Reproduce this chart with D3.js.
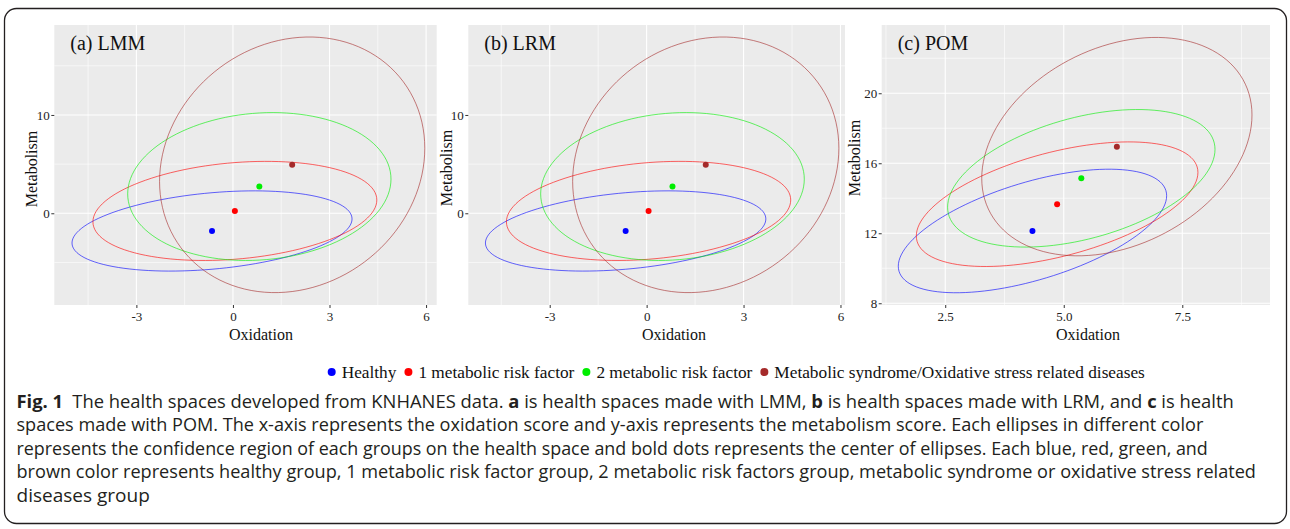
<!DOCTYPE html>
<html>
<head>
<meta charset="utf-8">
<script src="https://cdnjs.cloudflare.com/ajax/libs/d3/7.8.5/d3.min.js"></script>
<style>
  body { margin: 0; background: #fff; }
  svg { display: block; }
  .tick text { font-family: "Liberation Serif", "Times New Roman", serif; }
</style>
</head>
<body>
<svg id="fig" width="1290" height="529"></svg>
<script>
// groups (same order in every panel)
var groups = ["Healthy", "1 metabolic risk factor", "2 metabolic risk factor",
  "Metabolic syndrome/Oxidative stress related diseases"];
var groupColors = ["#0000ff", "#ff0000", "#00ee00", "#a52a2a"];

// (a) LMM : centres, half-width, half-height, tilt (corr)
var lmmCx = [-0.65, 0.06, 0.82, 1.84];
var lmmCy = [-1.80, 0.24, 2.72, 4.93];
var lmmRx = [4.35, 4.41, 4.09, 4.12];
var lmmRy = [4.08, 5.04, 7.52, 13.0];
var lmmRho = [0.30, 0.22, 0.10, 0.13];

// (b) LRM
var lrmCx = [-0.65, 0.06, 0.80, 1.83];
var lrmCy = [-1.80, 0.24, 2.72, 4.93];
var lrmRx = [4.34, 4.40, 4.08, 4.12];
var lrmRy = [4.08, 5.04, 7.52, 13.0];
var lrmRho = [0.30, 0.22, 0.10, 0.13];

// (c) POM
var pomCx = [4.34, 4.86, 5.37, 6.12];
var pomCy = [12.13, 13.66, 15.14, 16.95];
var pomRx = [2.83, 2.97, 2.82, 2.85];
var pomRy = [3.53, 3.56, 3.93, 6.24];
var pomRho = [0.57, 0.51, 0.42, 0.29];

// tick labels
var lmmXTicks = [-3, 0, 3, 6];
var lmmYTicks = [0, 10];
var pomXTicks = [2.5, 5.0, 7.5];
var pomYTicks = [8, 12, 16, 20];

var captionLines = [
  [["Fig. 1", true], ["\u2002The health spaces developed from KNHANES data. ", false], ["a", true],
   [" is health spaces made with LMM, ", false], ["b", true], [" is health spaces made with LRM, and ", false],
   ["c", true], [" is health", false]],
  [["spaces made with POM. The x-axis represents the oxidation score and y-axis represents the metabolism score. Each ellipses in different color", false]],
  [["represents the confidence region of each groups on the health space and bold dots represents the center of ellipses. Each blue, red, green, and", false]],
  [["brown color represents healthy group, 1 metabolic risk factor group, 2 metabolic risk factors group, metabolic syndrome or oxidative stress related", false]],
  [["diseases group", false]]
];

var serif = '"Liberation Serif", "Times New Roman", serif';
var svg = d3.select("#fig");

svg.append("rect")
  .attr("x", 4.5).attr("y", 8.5)
  .attr("width", 1282).attr("height", 515)
  .attr("rx", 12)
  .attr("fill", "none")
  .attr("stroke", "#231f20")
  .attr("stroke-width", 1.3);

var intFmt = function(d) { return String(d); };
var oneDec = function(d) { return d.toFixed(1); };

var panels = [
  {title: "(a) LMM", cx: lmmCx, cy: lmmCy, rx: lmmRx, ry: lmmRy, rho: lmmRho,
   xTicks: lmmXTicks, yTicks: lmmYTicks, xDom: [-5.55, 6.33], yDom: [-9.33, 19.15],
   x0: 54.3, x1: 436.7, fmt: intFmt, xLab: 261, yLabX: 32, yLabY: 169},
  {title: "(b) LRM", cx: lrmCx, cy: lrmCy, rx: lrmRx, ry: lrmRy, rho: lrmRho,
   xTicks: lmmXTicks, yTicks: lmmYTicks, xDom: [-5.52, 6.14], yDom: [-9.33, 19.15],
   x0: 468.3, x1: 845, fmt: intFmt, xLab: 674, yLabX: 447, yLabY: 168},
  {title: "(c) POM", cx: pomCx, cy: pomCy, rx: pomRx, ry: pomRy, rho: pomRho,
   xTicks: pomXTicks, yTicks: pomYTicks, xDom: [1.16, 9.35], yDom: [7.9, 23.9],
   x0: 881.7, x1: 1270, fmt: oneDec, xLab: 1088, yLabX: 855, yLabY: 158}
];
var panelTop = 25, panelBottom = 305;

function minorOf(ticks, dom) {
  var step = ticks.length > 1 ? ticks[1] - ticks[0] : 10;
  var out = [];
  ticks.forEach(function(t) {
    [t - step / 2, t + step / 2].forEach(function(m) {
      if (m > dom[0] && m < dom[1] && out.indexOf(m) < 0) out.push(m);
    });
  });
  return out;
}

panels.forEach(function(p) {
  var x = d3.scaleLinear().domain(p.xDom).range([p.x0, p.x1]);
  var y = d3.scaleLinear().domain(p.yDom).range([panelBottom, panelTop]);
  var g = svg.append("g");

  g.append("rect")
    .attr("x", p.x0).attr("y", panelTop)
    .attr("width", p.x1 - p.x0).attr("height", panelBottom - panelTop)
    .attr("fill", "#ebebeb");

  // grid
  g.selectAll(".xminor").data(minorOf(p.xTicks, p.xDom)).enter().append("line")
    .attr("x1", x).attr("x2", x).attr("y1", panelTop).attr("y2", panelBottom)
    .attr("stroke", "#fff").attr("stroke-width", 0.6);
  g.selectAll(".yminor").data(minorOf(p.yTicks, p.yDom)).enter().append("line")
    .attr("y1", y).attr("y2", y).attr("x1", p.x0).attr("x2", p.x1)
    .attr("stroke", "#fff").attr("stroke-width", 0.6);
  g.selectAll(".xmajor").data(p.xTicks).enter().append("line")
    .attr("x1", x).attr("x2", x).attr("y1", panelTop).attr("y2", panelBottom)
    .attr("stroke", "#fff").attr("stroke-width", 1.1);
  g.selectAll(".ymajor").data(p.yTicks).enter().append("line")
    .attr("y1", y).attr("y2", y).attr("x1", p.x0).attr("x2", p.x1)
    .attr("stroke", "#fff").attr("stroke-width", 1.1);

  // axes
  var xa = g.append("g")
    .attr("transform", "translate(0," + panelBottom + ")")
    .call(d3.axisBottom(x).tickValues(p.xTicks).tickFormat(p.fmt).tickSize(3).tickPadding(4));
  var ya = g.append("g")
    .attr("transform", "translate(" + p.x0 + ",0)")
    .call(d3.axisLeft(y).tickValues(p.yTicks).tickFormat(intFmt).tickSize(3).tickPadding(1.5));
  [xa, ya].forEach(function(a) {
    a.select(".domain").remove();
    a.selectAll(".tick line").attr("stroke", "#333");
    a.selectAll(".tick text").attr("fill", "#222").style("font-size", "13px");
  });

  // ellipses
  var idx = d3.range(groups.length);
  var steps = d3.range(0, 121).map(function(i) { return i / 120 * 2 * Math.PI; });
  var line = d3.line().x(function(d) { return x(d[0]); }).y(function(d) { return y(d[1]); })
    .curve(d3.curveLinearClosed);
  g.selectAll(".ell").data(idx).enter().append("path")
    .attr("d", function(i) {
      var ph = Math.acos(p.rho[i]);
      return line(steps.map(function(t) {
        return [p.cx[i] + p.rx[i] * Math.cos(t), p.cy[i] + p.ry[i] * Math.cos(t - ph)];
      }));
    })
    .attr("fill", "none")
    .attr("stroke", function(i) { return groupColors[i]; })
    .attr("stroke-opacity", 0.6)
    .attr("stroke-width", 1);
  g.selectAll(".ctr").data(idx).enter().append("circle")
    .attr("cx", function(i) { return x(p.cx[i]); })
    .attr("cy", function(i) { return y(p.cy[i]); })
    .attr("r", 3)
    .attr("fill", function(i) { return groupColors[i]; });

  g.append("text")
    .attr("x", p.x0 + 16).attr("y", 50)
    .style("font-family", serif).style("font-size", "20px")
    .attr("fill", "#111")
    .text(p.title);
  g.append("text")
    .attr("x", p.xLab).attr("y", 340)
    .attr("text-anchor", "middle")
    .style("font-family", serif).style("font-size", "16px")
    .attr("fill", "#111")
    .text("Oxidation");
  g.append("text")
    .attr("transform", "translate(" + (p.yLabX + 5) + "," + p.yLabY + ") rotate(-90)")
    .attr("text-anchor", "middle")
    .style("font-family", serif).style("font-size", "16px")
    .attr("fill", "#111")
    .text("Metabolism");
});

// legend
var lx = 331.7;
groups.forEach(function(name, i) {
  svg.append("circle").attr("cx", lx).attr("cy", 372).attr("r", 4).attr("fill", groupColors[i]);
  var t = svg.append("text")
    .attr("x", lx + 10).attr("y", 377.5)
    .style("font-family", serif).style("font-size", "17.3px")
    .attr("fill", "#111")
    .text(name);
  lx += 10 + t.node().getComputedTextLength() + 12;
});

// caption
var capEnds = [1234, 1204, 1209, 1257, 150];
captionLines.forEach(function(parts, i) {
  var baseY = 408 + i * 23.4;
  var t = svg.append("text")
    .attr("transform", "translate(16.5," + baseY + ")")
    .style("font-family", '"Open Sans", "Noto Sans", sans-serif')
    .style("font-size", "17.5px")
    .attr("fill", "#231f20")
    .attr("xml:space", "preserve");
  parts.forEach(function(s) {
    t.append("tspan").style("font-weight", s[1] ? "700" : "400").text(s[0]);
  });
  var w = t.node().getComputedTextLength();
  var k = (capEnds[i] - 16.5) / w;
  t.attr("transform", "translate(16.5," + baseY + ") scale(" + k + ",1)");
});
</script>
</body>
</html>
